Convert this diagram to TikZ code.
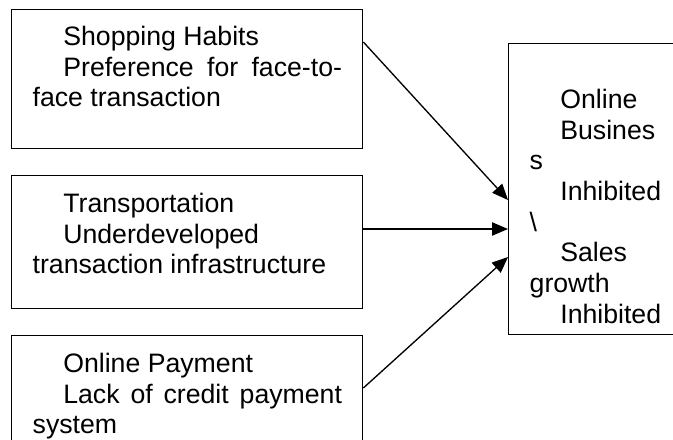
\documentclass[tikz,border=0pt]{standalone}
\usepackage{fontspec}
\setmainfont{Liberation Sans}
\usepackage{tikz}
\usetikzlibrary{arrows.meta, calc}

\newcommand{\firstind}{\hspace*{23pt}}
\newcommand{\spreadline}[1]{\makebox[232pt][s]{#1}}

\begin{document}
\begin{tikzpicture}[x=0.75pt, y=-0.75pt, line width=1pt,
  box/.style={draw=black, anchor=north west, inner sep=0pt},
  txt/.style={anchor=north west, inner sep=0pt, align=left, font=\fontsize{20}{23}\selectfont},
  arr/.style={-{Triangle[length=12pt, width=10pt]}}]

% fix the frame
\useasboundingbox (0, 0) rectangle (673, 439);
\clip (0, 0) rectangle (673, 439);

% draw the three cause boxes
\node[box, minimum width=263.25pt, minimum height=104.25pt] (shop) at (11, 9) {};
\node[box, minimum width=263.25pt, minimum height=99.75pt] (trans) at (11, 175) {};
\node[box, minimum width=263.25pt, minimum height=93.75pt] (pay) at (11, 335) {};

% draw the effect box
\node[box, minimum width=129pt, minimum height=218.25pt] (sales) at (508, 43) {};

% draw texts
\node[txt] (shoptxt) at (32, 23.5) {\strut\firstind Shopping Habits\\\spreadline{\firstind Preference for face-to-}\\face transaction};
\node[txt] (transtxt) at (32, 190.5) {\strut\firstind Transportation\\\firstind Underdeveloped\\transaction infrastructure};
\node[txt] (paytxt) at (32, 350.5) {\strut\firstind Online Payment\\\spreadline{\firstind Lack of credit payment}\\system};
\node[txt] (salestxt) at (529, 86.5) {\strut\firstind Online\\\firstind Busines\\s\\\firstind Inhibited\\\textbackslash\\\firstind Sales\\growth\\\firstind Inhibited};

% draw arrows
\draw[arr] ($(shop.north east)+(0, 33)$) -- ($(sales.north west)+(0, 157)$);
\draw[arr] ($(trans.north east)+(0, 54)$) -- ($(sales.north west)+(0, 186)$);
\draw[arr] ($(pay.north east)+(0, 53)$) -- ($(sales.north west)+(0, 214)$);

\end{tikzpicture}
\end{document}
